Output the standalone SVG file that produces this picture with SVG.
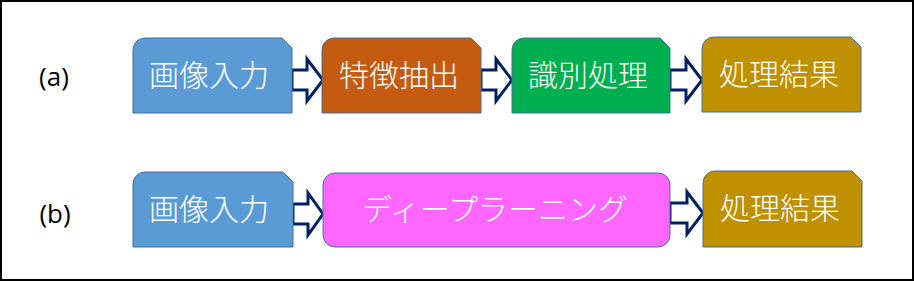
<svg xmlns="http://www.w3.org/2000/svg" width="914" height="281" viewBox="0 0 914 281">
<style>
.box{stroke:#41719C;stroke-width:1}
.t{font-family:"Noto Sans CJK JP","Noto Sans CJK SC",sans-serif;font-size:30px;font-weight:300;fill:#FFFFFF;text-anchor:middle}
.lbl{font-family:"Open Sans","Liberation Sans",sans-serif;font-size:26px;fill:#000000;text-anchor:middle}
.arr{fill:#FFFFFF;stroke:#002060;stroke-width:3;stroke-linejoin:miter}
</style>
<rect x="0" y="0" width="914" height="281" fill="#FFFFFF"/>
<rect x="1" y="1" width="912" height="279" fill="none" stroke="#000000" stroke-width="2"/>
<text class="lbl" x="54" y="86">(a)</text>
<text class="lbl" x="55" y="223">(b)</text>
<g id="connectors">
<path class="arr" d="M292,70 H307 V59 L323,80 L307,101 V90 H292 Z"/>
<path class="arr" d="M481,70 H496 V59 L512,80 L496,101 V90 H481 Z"/>
<path class="arr" d="M670,70 H686 V59 L702,80 L686,101 V90 H670 Z"/>
<path class="arr" d="M293,204 H308 V193 L323,214 L308,235 V224 H293 Z"/>
<path class="arr" d="M670,203 H687 V192 L703,213 L687,234 V223 H670 Z"/>
</g>
<g id="a1">
<path class="box" fill="#5B9BD5" d="M133,113 V50 A12,12 0 0 1 145,38 H282 L292,48 V113 Z"/>
<text class="t" x="209" y="86">画像入力</text>
</g>
<g id="a2">
<path class="box" fill="#C55A11" d="M322,113 V50 A12,12 0 0 1 334,38 H471 L481,48 V113 Z"/>
<text class="t" x="399" y="86">特徴抽出</text>
</g>
<g id="a3">
<path class="box" fill="#00B050" d="M512,113 V50 A12,12 0 0 1 524,38 H660 L670,48 V113 Z"/>
<text class="t" x="588" y="86">識別処理</text>
</g>
<g id="a4">
<path class="box" fill="#BF9000" d="M702,112 V49 A12,12 0 0 1 714,37 H851 L861,47 V112 Z"/>
<text class="t" x="779" y="85">処理結果</text>
</g>
<g id="b1">
<path class="box" fill="#5B9BD5" d="M133,247 V184 A12,12 0 0 1 145,172 H283 L293,182 V247 Z"/>
<text class="t" x="209" y="220">画像入力</text>
</g>
<g id="b2">
<rect class="box" fill="#FF66FF" x="323" y="173" width="347" height="74" rx="12" ry="12"/>
<text class="t" x="495" y="220">ディープラーニング</text>
</g>
<g id="b3">
<path class="box" fill="#BF9000" d="M703,247 V183 A12,12 0 0 1 715,171 H852 L862,181 V247 Z"/>
<text class="t" x="780" y="219">処理結果</text>
</g>
</svg>
